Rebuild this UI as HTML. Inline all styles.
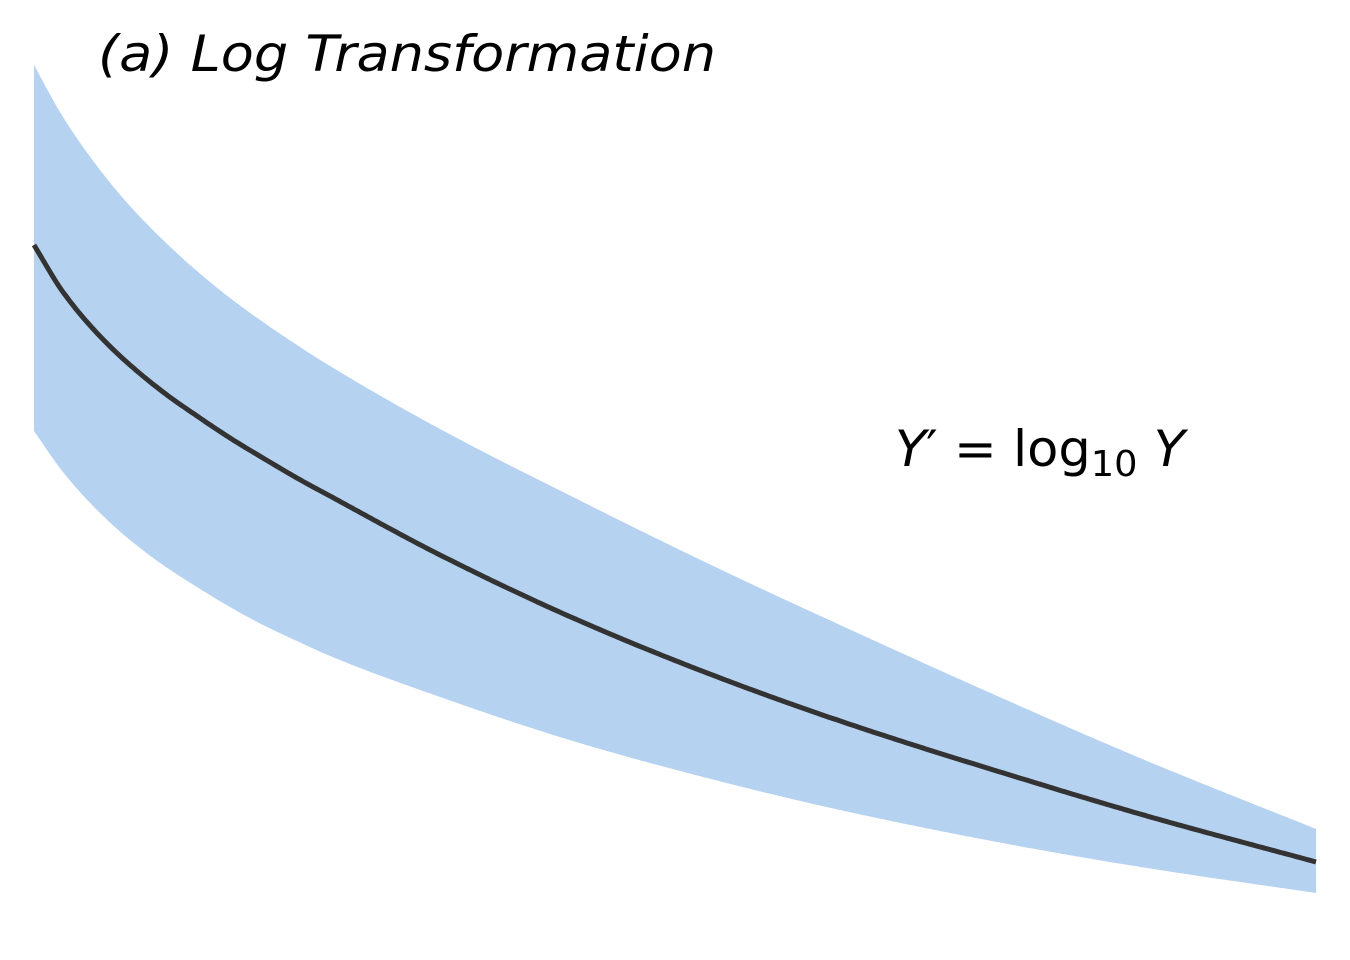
<!DOCTYPE html>
<html><head><meta charset="utf-8"><style>
html,body{margin:0;padding:0;background:#fff;width:1350px;height:960px;overflow:hidden}
svg{display:block}
</style></head><body>
<svg id="chart" width="1350" height="960">
<text x="98" y="71" font-family="DejaVu Sans, Liberation Sans, sans-serif" font-style="italic" font-size="50" textLength="618" lengthAdjust="spacingAndGlyphs" fill="#000">(a) Log Transformation</text>
<text x="895" y="466" font-family="DejaVu Sans, Liberation Sans, sans-serif" font-size="50" fill="#000" textLength="290" lengthAdjust="spacingAndGlyphs"><tspan font-style="italic">Y</tspan><tspan>′ = log</tspan><tspan font-size="36" dy="10">10</tspan><tspan dy="-10"> </tspan><tspan font-style="italic">Y</tspan></text>
</svg>
<script>
const xs = [0, .0226, .0491, .0749, .1006, .1271, .1529, .1786, .2051, .2309, .3167, .4204, .525, .6287, .7637, .8682, 1];
const meanVals = [74.48, 69.58, 65.31, 61.98, 59.17, 56.67, 54.38, 52.29, 50.21, 48.33, 42.19, 35.63, 29.9, 24.9, 19.17, 15.0, 10.21];
const upperVals = [93.23, 87.81, 82.71, 78.54, 75.0, 71.77, 68.96, 66.46, 64.06, 61.875, 55.31, 48.23, 41.35, 34.9, 26.77, 20.73, 13.65];
const lowerVals = [55.1, 50.83, 46.88, 43.75, 41.15, 38.85, 36.77, 34.9, 33.23, 31.67, 27.4, 22.81, 18.96, 15.625, 11.98, 9.58, 6.98];

const X0 = 34, X1 = 1316;
function xScale(t){ return X0 + t * (X1 - X0); }
function yScale(v){ return 960 - v * 9.6; }

function monotone(x, y, n){
  const k = x.length, d = [], m = [];
  for (let i = 0; i < k-1; i++) d.push((y[i+1]-y[i])/(x[i+1]-x[i]));
  m[0] = d[0]; m[k-1] = d[k-2];
  for (let i = 1; i < k-1; i++){
    if (d[i-1]*d[i] <= 0) m[i] = 0;
    else { const w1 = 2*(x[i+1]-x[i]) + (x[i]-x[i-1]), w2 = (x[i+1]-x[i]) + 2*(x[i]-x[i-1]);
      m[i] = (w1+w2)/(w1/d[i-1] + w2/d[i]); }
  }
  const out = [];
  for (let s = 0; s <= n; s++){
    const t = x[0] + (x[k-1]-x[0]) * s / n;
    let i = 0; while (i < k-2 && t > x[i+1]) i++;
    const h = x[i+1]-x[i], u = (t-x[i])/h;
    const h00 = 2*u*u*u - 3*u*u + 1, h10 = u*u*u - 2*u*u + u, h01 = -2*u*u*u + 3*u*u, h11 = u*u*u - u*u;
    out.push([t, h00*y[i] + h10*h*m[i] + h01*y[i+1] + h11*h*m[i+1]]);
  }
  return out;
}
function toPts(vals){ return monotone(xs, vals, 400).map(p => [xScale(p[0]), yScale(p[1])]); }
function pathStr(pts, first){ return pts.map((p,i)=> (i===0 ? (first?'M':'L') : 'L') + p[0].toFixed(1) + ',' + p[1].toFixed(1)).join(''); }

const svg = document.getElementById('chart');
const NS = 'http://www.w3.org/2000/svg';
const up = toPts(upperVals);
const lo = toPts(lowerVals).reverse();
const mean = toPts(meanVals);

const band = document.createElementNS(NS, 'path');
band.setAttribute('d', pathStr(up, true) + pathStr(lo, false) + 'Z');
band.setAttribute('fill', '#b5d2f1');


svg.insertBefore(band, svg.firstChild);

const line = document.createElementNS(NS, 'path');
line.setAttribute('d', pathStr(mean, true));
line.setAttribute('fill', 'none');
line.setAttribute('stroke', '#333333');
line.setAttribute('stroke-width', '5');
line.setAttribute('stroke-linejoin', 'round');


svg.insertBefore(line, band.nextSibling);
</script>
</body></html>
